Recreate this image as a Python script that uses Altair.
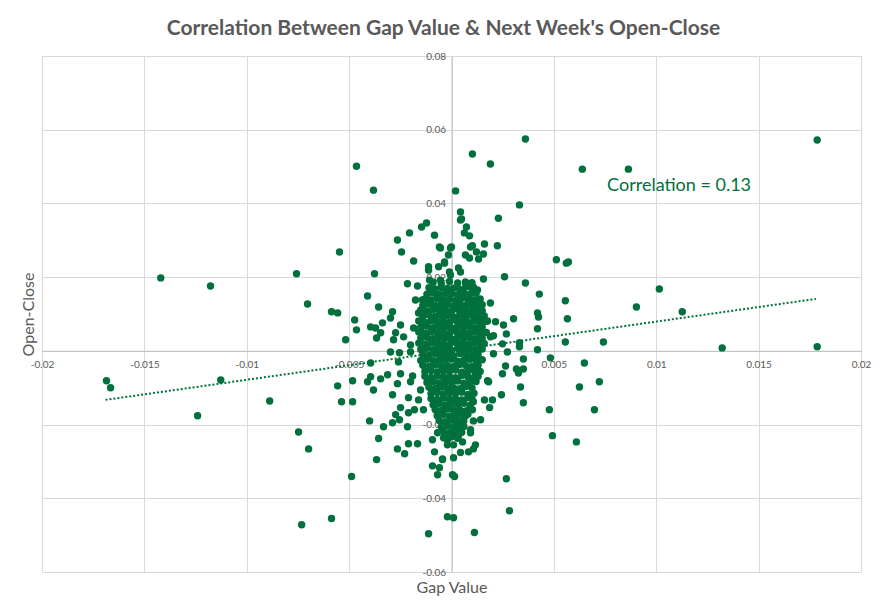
import altair as alt
import pandas as pd

# ---------------- data ----------------
# isolated points far from the cluster
far_gap = [-0.01685, -0.01665, -0.0142, -0.01177, -0.01127, -0.0124, -0.00888, -0.00757, -0.00703,
           -0.00747, -0.00698, -0.00732, -0.00586, -0.00586, -0.00556, -0.00547, -0.00464, -0.00381,
           -0.00488, -0.00556, -0.00483, -0.00537, -0.00483, -0.00473, -0.00464, -0.00517,
           -0.00112, -0.0002, 0.0001, 0.00112, 0.00283, 0.00268,
           0.00102, 0.0019, 0.00361, 0.0002, 0.00332, 0.00639, 0.00864, 0.01786, 0.01786, 0.01322,
           0.01015, 0.00903, 0.01127, 0.00742, 0.00556, 0.00566, 0.00556, 0.00512, 0.00561, 0.00571,
           0.00649, 0.00625, 0.00722, 0.00698, 0.0061, 0.00493, 0.00478, 0.00483]
far_oc = [-0.0081, -0.0100, 0.0198, 0.0176, -0.0079, -0.0176, -0.0136, 0.0209, 0.0127,
          -0.0220, -0.0266, -0.0472, -0.0455, 0.0106, 0.0103, 0.0268, 0.0501, 0.0436,
          -0.0341, -0.0095, -0.0081, -0.0138, -0.0138, 0.0084, 0.0057, 0.0030,
          -0.0496, -0.0450, -0.0453, -0.0493, -0.0434, -0.0347,
          0.0534, 0.0507, 0.0575, 0.0434, 0.0396, 0.0493, 0.0493, 0.0572, 0.0011, 0.0008,
          0.0168, 0.0119, 0.0106, 0.0024, 0.0024, 0.0087, 0.0136, 0.0247, 0.0238, 0.0241,
          -0.0033, -0.0098, -0.0084, -0.0160, -0.0247, -0.0230, -0.0160, -0.0019]

# scattered points around the upper-left of the cluster
ul_gap = [-0.00122, -0.00146, -0.00205, -0.00264, -0.00244, -0.00083, -0.00059, -0.00054, -0.00005,
          -0.00015, -0.00034, -0.00185, -0.00112, -0.00112, -0.00063, -0.00376, -0.00215, -0.00166,
          -0.00107, -0.0041, -0.00176, -0.00356, -0.00288, -0.00395, -0.00371, -0.00337, -0.00346,
          -0.00366, -0.00298, -0.00249, -0.00273, -0.00283, -0.00298, -0.00254, -0.00234, -0.002,
          -0.00185, -0.00151, -0.00161, -0.00127, -0.00142, -0.00102, -0.00054, -0.00005, 0.00034,
          0.00044, 0.00044]
ul_oc = [0.0347, 0.0336, 0.0320, 0.0301, 0.0268, 0.0314, 0.0282, 0.0279, 0.0279,
         0.0260, 0.0241, 0.0244, 0.0228, 0.0219, 0.0228, 0.0209, 0.0182, 0.0176,
         0.0192, 0.0149, 0.0138, 0.0119, 0.0106, 0.0065, 0.0062, 0.0076, 0.0049,
         0.0035, 0.0089, 0.0070, 0.0049, 0.0030, -0.0003, -0.0005, 0.0038, 0.0016,
         0.0062, 0.0051, 0.0103, 0.0106, 0.0138, 0.0165, 0.0192, 0.0206, 0.0225,
         0.0377, 0.0355]

# scattered points around the upper-right of the cluster
ur_gap = [0.00229, 0.00049, 0.00073, 0.00063, 0.00088, 0.0, 0.00093, 0.00102, 0.00161, 0.00224,
          0.00122, 0.00156, 0.00068, 0.00088, 0.00132, -0.00034, 0.00044, -0.0001, 0.00156, 0.00259,
          0.00361, 0.00429, 0.0019, 0.0042, 0.00425, 0.00303, 0.0042, 0.00254, 0.00215, 0.00176,
          0.00268, 0.00205, 0.0019, 0.00249, 0.00332, 0.00332, 0.00273, 0.0042, 0.00351, 0.00205,
          0.00142, 0.00151, 0.00156, 0.00127, 0.00107, 0.00068]
ur_oc = [0.0360, 0.0358, 0.0336, 0.0320, 0.0312, 0.0282, 0.0282, 0.0285, 0.0290, 0.0285,
         0.0268, 0.0263, 0.0260, 0.0252, 0.0249, 0.0238, 0.0214, 0.0214, 0.0195, 0.0201,
         0.0184, 0.0154, 0.0130, 0.0103, 0.0092, 0.0087, 0.0060, 0.0070, 0.0079, 0.0081,
         0.0046, 0.0041, 0.0038, 0.0019, 0.0022, 0.0011, -0.0003, 0.0003, -0.0022, -0.0008,
         0.0030, 0.0051, 0.0089, 0.0165, 0.0173, 0.0187]

# scattered points around the lower-left of the cluster
ll_gap = [-0.00395, -0.00259, -0.002, -0.00395, -0.0041, -0.00381, -0.00346, -0.00312, -0.00249,
          -0.00264, -0.0019, -0.002, -0.00288, -0.0021, -0.00161, -0.00249, -0.00273, -0.00254,
          -0.0021, -0.00181, -0.00137, -0.004, -0.00332, -0.00288, -0.00215, -0.00356, -0.00264,
          -0.00229, -0.0021, -0.00166, -0.00366, -0.00093, -0.00083, -0.00093, -0.00068, -0.00059,
          -0.00044, 0.00005, 0.0001, -0.00068, -0.00039, -0.0002, -0.00151]
ll_oc = [-0.0033, -0.0030, -0.0003, -0.0070, -0.0084, -0.0106, -0.0076, -0.0065, -0.0062,
         -0.0089, -0.0068, -0.0084, -0.0119, -0.0127, -0.0133, -0.0154, -0.0173, -0.0187,
         -0.0168, -0.0160, -0.0160, -0.0190, -0.0206, -0.0195, -0.0206, -0.0238, -0.0266,
         -0.0279, -0.0252, -0.0252, -0.0295, -0.0241, -0.0274, -0.0312, -0.0336, -0.0317,
         -0.0295, -0.0336, -0.0290, -0.0222, -0.0236, -0.0255, -0.0106]

# scattered points around the lower-right of the cluster
lr_gap = [0.00264, 0.00249, 0.00317, 0.00351, 0.00327, 0.00176, 0.00181, 0.00337, 0.00244, 0.00161,
          0.002, 0.00186, 0.00351, 0.00107, 0.00102, 0.00142, 0.00107, 0.00068, 0.00024, 0.00093,
          0.00093, 0.0002, 0.00034, 0.00054, 0.0001, -0.0002, 0.00117, 0.00107, 0.00083, 0.00044,
          -0.00044, 0.00015]
lr_oc = [-0.0041, -0.0062, -0.0049, -0.0049, -0.0060, -0.0081, -0.0084, -0.0098, -0.0119, -0.0133,
         -0.0133, -0.0154, -0.0141, -0.0138, -0.0160, -0.0187, -0.0190, -0.0176, -0.0195, -0.0214,
         -0.0222, -0.0222, -0.0230, -0.0247, -0.0255, -0.0241, -0.0255, -0.0266, -0.0274, -0.0276,
         -0.0293, -0.0341]

# the dense core of the cluster, estimated; values in units of 0.0001
core_upper_gap = [-9, -5, -1, 3, 7, 10,
                  -11, -8, -5, -2, 1, 4, 7, 10,
                  -12, -9, -6, -3, 0, 3, 6, 9, 12,
                  -13, -10, -7, -4, -1, 2, 5, 8, 11, 14,
                  -14, -11, -8, -5, -2, 1, 4, 7, 10, 13, 15,
                  -15, -12, -9, -6, -3, 0, 3, 6, 9, 12, 15,
                  -14, -11, -8, -5, -2, 1, 4, 7, 10, 13, 16,
                  -16, -13, -10, -7, -4, -1, 2, 5, 8, 11, 14, 17,
                  -15, -12, -9, -6, -3, 0, 3, 6, 9, 12, 15]
core_upper_oc = [186, 183, 188, 184, 181, 185,
                 171, 168, 172, 169, 170, 167, 173, 169,
                 154, 157, 153, 156, 155, 152, 157, 154, 156,
                 141, 138, 142, 139, 140, 137, 143, 140, 138, 141,
                 124, 127, 123, 126, 125, 122, 127, 124, 126, 123, 125,
                 111, 108, 112, 109, 110, 107, 113, 110, 108, 111, 109,
                 94, 97, 93, 96, 95, 92, 97, 94, 96, 93, 95,
                 81, 78, 82, 79, 80, 77, 83, 80, 78, 81, 79, 80,
                 64, 67, 63, 66, 65, 62, 67, 64, 66, 63, 65]
core_lower_gap = [-16, -13, -10, -7, -4, -1, 2, 5, 8, 11, 14, 17,
                  -15, -12, -9, -6, -3, 0, 3, 6, 9, 12, 15,
                  -16, -13, -10, -7, -4, -1, 2, 5, 8, 11, 14, 16,
                  -15, -12, -9, -6, -3, 0, 3, 6, 9, 12, 15,
                  -14, -11, -8, -5, -2, 1, 4, 7, 10, 13,
                  -15, -12, -9, -6, -3, 0, 3, 6, 9, 12, 15,
                  -14, -11, -8, -5, -2, 1, 4, 7, 10, 13,
                  -13, -10, -7, -4, -1, 2, 5, 8, 11, 14,
                  -13, -10, -7, -4, -1, 2, 5, 8, 11, 13,
                  -12, -9, -6, -3, 0, 3, 6, 9, 12,
                  -11, -8, -5, -2, 1, 4, 7, 10,
                  -10, -7, -4, -1, 2, 5, 8, 11,
                  -10, -7, -4, -1, 2, 5, 8, 10,
                  -9, -6, -3, 0, 3, 6, 9,
                  -8, -5, -2, 1, 4, 7, 9,
                  -7, -4, -1, 2, 5, 8,
                  -6, -3, 0, 3, 6,
                  -5, -2, 1, 4, 6,
                  -4, -1, 2, 5,
                  -3, 0, 3]
core_lower_oc = [51, 48, 52, 49, 50, 47, 53, 50, 48, 51, 49, 50,
                 34, 37, 33, 36, 35, 32, 37, 34, 36, 33, 35,
                 21, 18, 22, 19, 20, 17, 23, 20, 18, 21, 19, 20,
                 4, 7, 3, 6, 5, 2, 7, 4, 6, 3, 5,
                 -9, -12, -8, -11, -10, -13, -7, -10, -12, -9,
                 -26, -23, -27, -24, -25, -22, -28, -25, -23, -26, -24,
                 -39, -42, -38, -41, -40, -43, -37, -40, -42, -39,
                 -56, -53, -57, -54, -55, -52, -58, -55, -53, -56,
                 -69, -72, -68, -71, -70, -73, -67, -70, -72, -69,
                 -86, -83, -87, -84, -85, -82, -88, -85, -83,
                 -99, -102, -98, -101, -100, -103, -97, -101,
                 -116, -113, -117, -114, -115, -112, -118, -115,
                 -129, -132, -128, -131, -130, -133, -127, -130,
                 -146, -143, -147, -144, -145, -142, -148,
                 -159, -162, -158, -161, -160, -163, -157,
                 -176, -173, -177, -174, -175, -172,
                 -189, -192, -188, -191, -190,
                 -206, -203, -207, -204, -205,
                 -219, -222, -218, -221,
                 -236, -233, -237]

# dotted trend line end points
trend_gap = [-0.0169, 0.0178]
trend_oc = [-0.0133, 0.0141]

note_gap = [0.0076]
note_oc = [0.0447]
note_text = ["Correlation = 0.13"]

x_ticks = [-0.02, -0.015, -0.01, -0.005, 0, 0.005, 0.01, 0.015, 0.02]
y_ticks = [-0.06, -0.04, -0.02, 0, 0.02, 0.04, 0.06, 0.08]

# ---------------- chart ----------------
GREEN = "#00703c"
GREY = "#595959"
FONT = "Lato"

gap_all = far_gap + ul_gap + ur_gap + ll_gap + lr_gap + [v / 10000 for v in core_upper_gap + core_lower_gap]
oc_all = far_oc + ul_oc + ur_oc + ll_oc + lr_oc + [v / 10000 for v in core_upper_oc + core_lower_oc]
points = pd.DataFrame({"gap": gap_all, "oc": oc_all})
trend = pd.DataFrame({"gap": trend_gap, "oc": trend_oc})
note = pd.DataFrame({"gap": note_gap, "oc": note_oc, "label": note_text})

W, H = 819, 516
X_DOM = [-0.02, 0.02]
Y_DOM = [-0.06, 0.08]
zero_y = H * Y_DOM[1] / (Y_DOM[1] - Y_DOM[0])      # pixel row of oc = 0
zero_x = W * (-X_DOM[0]) / (X_DOM[1] - X_DOM[0])    # pixel column of gap = 0

xs = alt.Scale(domain=X_DOM, nice=False, zero=False)
ys = alt.Scale(domain=Y_DOM, nice=False, zero=False)

x_axis = alt.Axis(
    values=x_ticks, labelExpr="toString(datum.value)", offset=-(H - zero_y),
    grid=True, gridColor="#d9d9d9", gridWidth=1, domainColor="#bfbfbf", domainWidth=1,
    ticks=False, labelFont=FONT, labelFontSize=10, labelColor=GREY, labelPadding=9,
    labelFlush=False, labelOverlap=False, labelBound=False,
    title="Gap Value", titleFont=FONT, titleFontSize=16, titleFontWeight="normal", titleColor=GREY,
    titleX=W / 2, titleY=(H + 15) - zero_y, titleBaseline="middle", titleAlign="center",
)
y_axis = alt.Axis(
    values=y_ticks, labelExpr="toString(datum.value)", offset=-zero_x,
    grid=True, gridColor="#d9d9d9", gridWidth=1, domainColor="#bfbfbf", domainWidth=1,
    ticks=False, labelFont=FONT, labelFontSize=10, labelColor=GREY, labelPadding=6,
    labelFlush=False, labelOverlap=False, labelBound=False,
    title="Open-Close", titleFont=FONT, titleFontSize=16, titleFontWeight="normal", titleColor=GREY,
    titleX=-14 - zero_x, titleY=H / 2, titleBaseline="middle", titleAlign="center", titleAngle=270,
)

dots = alt.Chart(points).mark_circle(size=55, color=GREEN, opacity=1).encode(
    x=alt.X("gap:Q", scale=xs, axis=x_axis),
    y=alt.Y("oc:Q", scale=ys, axis=y_axis),
)
line = alt.Chart(trend).mark_line(color=GREEN, strokeWidth=2, strokeDash=[2, 2]).encode(
    x=alt.X("gap:Q", scale=xs),
    y=alt.Y("oc:Q", scale=ys),
)
label = alt.Chart(note).mark_text(
    color=GREEN, font=FONT, fontSize=18, align="left", baseline="middle"
).encode(
    x=alt.X("gap:Q", scale=xs),
    y=alt.Y("oc:Q", scale=ys),
    text="label:N",
)

chart = alt.layer(dots, line, label).properties(
    width=W, height=H,
    autosize=alt.AutoSizeParams(type="none"),
    padding={"left": 34, "top": 48, "right": 19, "bottom": 36},
    title=alt.TitleParams(
        text="Correlation Between Gap Value & Next Week's Open-Close",
        font=FONT, fontSize=21, fontWeight="bold", color=GREY,
        anchor="middle", dx=-8, offset=-5, baseline="alphabetic",
    ),
    background="white",
).configure_view(strokeWidth=0)

chart.save("out.html", embed_options={"renderer": "svg", "actions": False})
